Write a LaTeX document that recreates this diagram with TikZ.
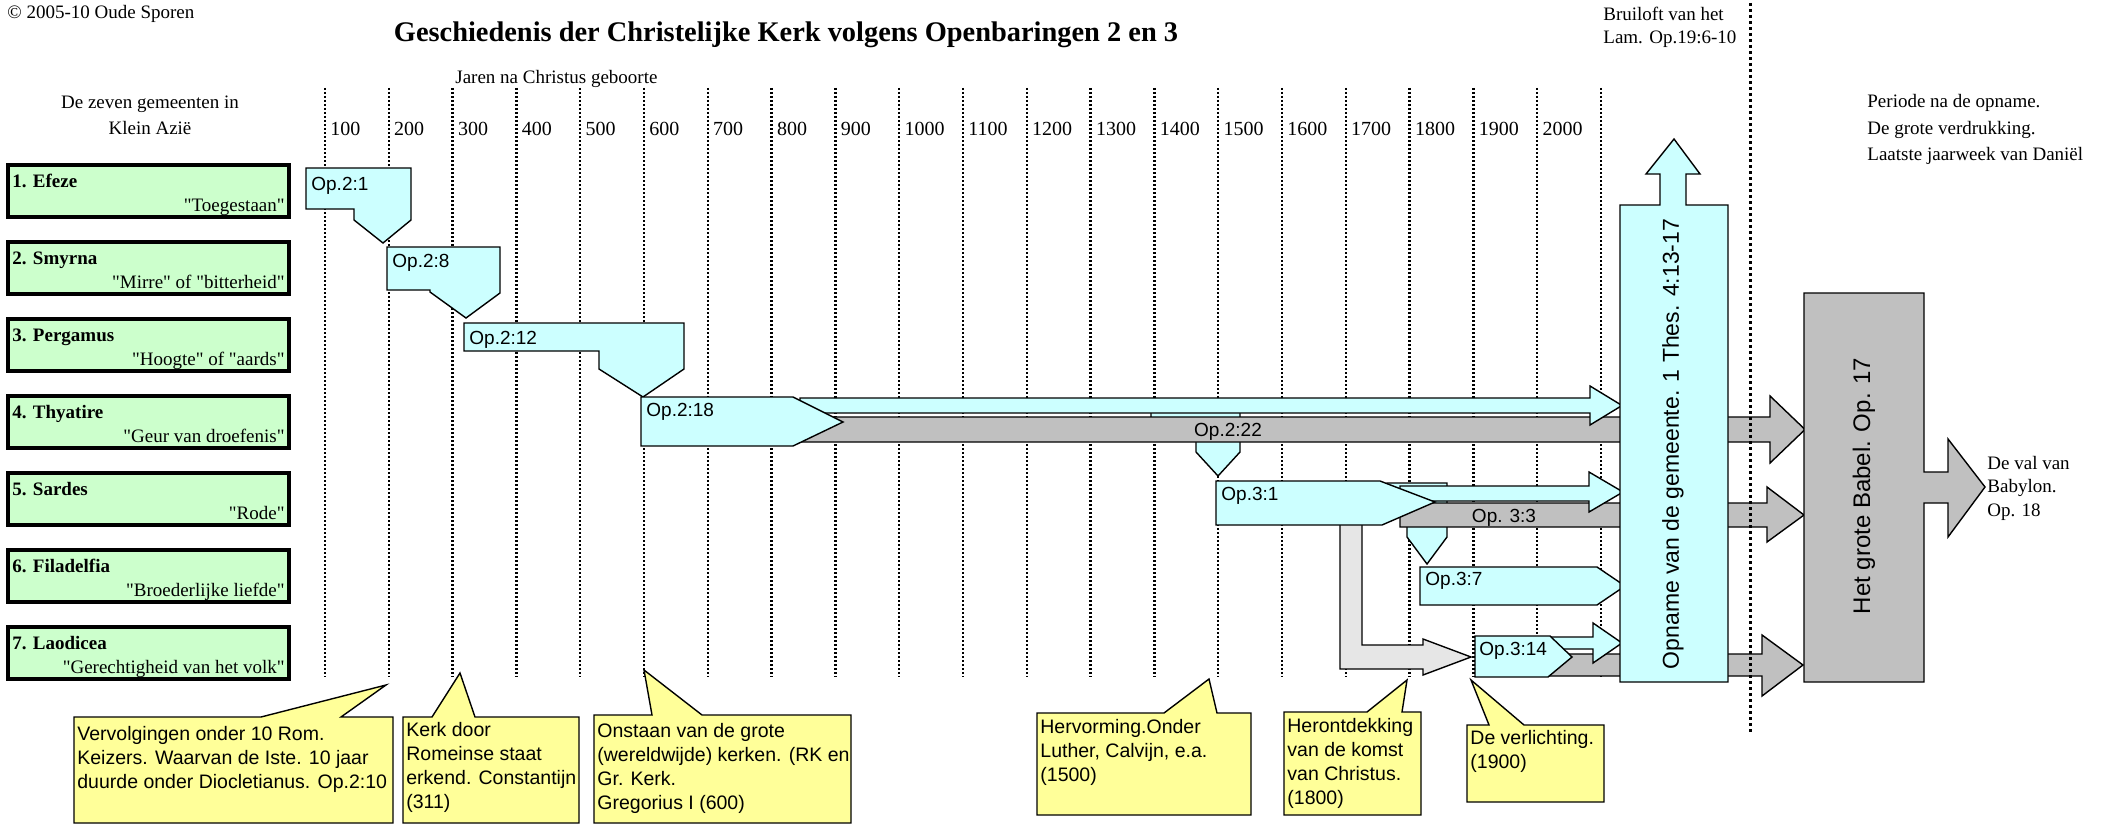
\documentclass[tikz,border=0pt]{standalone}
\usepackage{fontspec}
\setmainfont{Liberation Serif}[Ligatures=TeXOff]
\setsansfont{Liberation Sans}[Ligatures=TeXOff]
\definecolor{cyf}{HTML}{CCFFFF}
\definecolor{grf}{HTML}{C0C0C0}
\definecolor{lgf}{HTML}{E6E6E6}
\definecolor{grnf}{HTML}{CCFFCC}
\definecolor{yelf}{HTML}{FFFF99}
\tikzset{
 dotl/.style={line width=1.2pt, dash pattern=on 1pt off 1pt},
 tdot/.style={line width=1.5pt, dash pattern=on 1.5pt off 1.5pt},
 cyshape/.style={draw=black, fill=cyf, line width=0.7pt},
 grshape/.style={draw=black, fill=grf, line width=0.7pt},
 lgshape/.style={draw=black, fill=lgf, line width=0.7pt},
 church/.style={draw=black, fill=grnf, line width=2pt},
 yshape/.style={draw=black, fill=yelf, line width=0.7pt},
 serif/.style={font=\fontsize{9.5pt}{12pt}\selectfont, inner sep=0pt},
 sans/.style={font=\sffamily\fontsize{9.5pt}{12pt}\selectfont, inner sep=0pt},
 ctext/.style={font=\sffamily\fontsize{9.75pt}{12pt}\selectfont, inner sep=0pt, align=left, anchor=north west},
 bigsans/.style={font=\sffamily\fontsize{11.5pt}{13pt}\selectfont, inner sep=0pt, rotate=90},
}
\begin{document}
\begin{tikzpicture}[x=0.5pt,y=-0.5pt]
\useasboundingbox[fill=white] (0,0) rectangle (2103,824);

% dotted year lines
\foreach \k in {1,...,21}
  \draw[dotl] ({325+63.8*(\k-1)},88) -- ({325+63.8*(\k-1)},677);
\foreach \k [evaluate=\k as \yr using int(\k*100)] in {1,...,20}
  \node[serif, anchor=base west, font=\fontsize{10pt}{12pt}\selectfont] (yr\k) at ({330+63.8*(\k-1)},135) {\yr};

% headings
\node[serif, anchor=base west] (copy) at (7,19) {© 2005-10 Oude Sporen};
\node[inner sep=0pt, anchor=base, font=\bfseries\fontsize{14.2pt}{16pt}\selectfont] (title) at (786,42) {Geschiedenis der Christelijke Kerk volgens Openbaringen 2 en 3};
\node[serif, anchor=base west] (jaren) at (455,84) {Jaren na Christus geboorte};
\node[serif, anchor=base] (zeven1) at (150,109) {De zeven gemeenten in};
\node[serif, anchor=base] (zeven2) at (150,134) {Klein Azië};
\node[serif, anchor=base west] (brui1) at (1603,21) {Bruiloft van het};
\node[serif, anchor=base west] (brui2) at (1603,44) {Lam. Op.19:6-10};
\node[serif, anchor=base west] (per1) at (1867,108) {Periode na de opname.};
\node[serif, anchor=base west] (per2) at (1867,134) {De grote verdrukking.};
\node[serif, anchor=base west] (per3) at (1867,160) {Laatste jaarweek van Daniël};

% church boxes
\foreach \i/\nm/\sb in {0/1. Efeze/"Toegestaan",
                        1/2. Smyrna/"Mirre" of "bitterheid",
                        2/3. Pergamus/"Hoogte" of "aards",
                        3/4. Thyatire/"Geur van droefenis",
                        4/5. Sardes/"Rode",
                        5/6. Filadelfia/"Broederlijke liefde",
                        6/7. Laodicea/"Gerechtigheid van het volk"}{
  \draw[church] (8,{165+77*\i}) rectangle (289,{217+77*\i});
  \node[serif, anchor=base west, font=\bfseries\fontsize{9.5pt}{12pt}\selectfont] (cn\i) at (12,{187+77*\i}) {\nm};
  \node[serif, anchor=base east] (cs\i) at (285,{211+77*\i}) {\sb};
}

% callout arrows behind bars
\draw[cyshape] (1151,410) -- (1240,410) -- (1240,452) -- (1218,476) -- (1196,452) -- (1196,440) -- (1151,440) -- cycle;
\draw[cyshape] (1387,483) -- (1447,483) -- (1447,537) -- (1427,564) -- (1407,537) -- (1407,515) -- (1387,515) -- cycle;
% Laodicea L arrow
\draw[lgshape] (1340,515) -- (1362,515) -- (1362,645) -- (1423,645) -- (1423,639) -- (1471,657) -- (1423,675) -- (1423,669) -- (1340,669) -- cycle;

% Thyatire bars
\draw[grshape] (800,417) -- (1770,417) -- (1770,396) -- (1805,429.5) -- (1770,463) -- (1770,442) -- (800,442) -- cycle;
\draw[cyshape] (800,398) -- (1590,398) -- (1590,386) -- (1622,405.5) -- (1590,425) -- (1590,413) -- (800,413) -- cycle;
\node[sans, anchor=base] (op222) at (1228,436) {Op.2:22};
% Sardes bars
\draw[grshape] (1400,503) -- (1767,503) -- (1767,487) -- (1804,515) -- (1767,542) -- (1767,527) -- (1400,527) -- cycle;
\draw[cyshape] (1400,486) -- (1589,486) -- (1589,472) -- (1623,492) -- (1589,512) -- (1589,501) -- (1400,501) -- cycle;
\node[sans, anchor=base] (op33) at (1504,522) {Op. 3:3};
% Laodicea bars
\draw[grshape] (1548,654) -- (1762,654) -- (1762,635) -- (1803,665) -- (1762,696) -- (1762,676) -- (1548,676) -- cycle;
\draw[cyshape] (1547,637) -- (1593,637) -- (1593,623) -- (1622,643) -- (1593,663) -- (1593,649) -- (1547,649) -- cycle;

% church period shapes
\draw[cyshape] (306,168) -- (411,168) -- (411,220) -- (383,243) -- (354,220) -- (354,209) -- (306,209) -- cycle;
\node[sans, anchor=base west] (op21) at (311,190) {Op.2:1};
\draw[cyshape] (387,247) -- (500,247) -- (500,293) -- (466,318) -- (430,292) -- (430,290) -- (387,290) -- cycle;
\node[sans, anchor=base west] (op28) at (392,267) {Op.2:8};
\draw[cyshape] (464,323) -- (684,323) -- (684,369) -- (643,397) -- (599,369) -- (599,351) -- (464,351) -- cycle;
\node[sans, anchor=base west] (op212) at (469,344) {Op.2:12};
\draw[cyshape] (641,397) -- (793,397) -- (843,422) -- (793,446) -- (641,446) -- cycle;
\node[sans, anchor=base west] (op218) at (646,416) {Op.2:18};
\draw[cyshape] (1216,481) -- (1380,481) -- (1435,502) -- (1382,525) -- (1216,525) -- cycle;
\node[sans, anchor=base west] (op31) at (1221,500) {Op.3:1};
\draw[cyshape] (1420,567) -- (1597,567) -- (1625,586) -- (1597,605) -- (1420,605) -- cycle;
\node[sans, anchor=base west] (op37) at (1425,585) {Op.3:7};
\draw[cyshape] (1475,636) -- (1550,636) -- (1572,657) -- (1548,677) -- (1475,677) -- cycle;
\node[sans, anchor=base west] (op314) at (1479,655) {Op.3:14};

% Opname
\draw[cyshape] (1620,682) -- (1620,205) -- (1660,205) -- (1660,174) -- (1646,174) -- (1674,139) -- (1700,174) -- (1686,174) -- (1686,205) -- (1728,205) -- (1728,682) -- cycle;
\node[bigsans] (opname) at (1673,444) {Opname van de gemeente. 1 Thes. 4:13-17};
% Babel
\draw[grshape] (1804,293) -- (1924,293) -- (1924,472) -- (1948,472) -- (1948,439) -- (1985,487) -- (1948,537) -- (1948,503) -- (1924,503) -- (1924,682) -- (1804,682) -- cycle;
\node[bigsans, font=\sffamily\fontsize{12pt}{14pt}\selectfont] (babel) at (1864,486) {Het grote Babel. Op. 17};
\node[serif, anchor=base west] (val1) at (1987,469) {De val van};
\node[serif, anchor=base west] (val2) at (1987,492) {Babylon.};
\node[serif, anchor=base west] (val3) at (1987,516) {Op. 18};

% tall dotted line
\draw[tdot] (1750,3) -- (1750,733);

% yellow callouts
\draw[yshape] (74,717) -- (261,717) -- (386,685) -- (341,717) -- (393,717) -- (393,823) -- (74,823) -- cycle;
\node[ctext] (c1) at (77,726) {Vervolgingen onder 10 Rom.\\Keizers. Waarvan de Iste. 10 jaar\\duurde onder Diocletianus. Op.2:10};
\draw[yshape] (403,717) -- (432,717) -- (460,673) -- (475,717) -- (579,717) -- (579,823) -- (403,823) -- cycle;
\node[ctext] (c2) at (406,722) {Kerk door\\Romeinse staat\\erkend. Constantijn\\(311)};
\draw[yshape] (594,715) -- (652,715) -- (644,670) -- (702,715) -- (851,715) -- (851,823) -- (594,823) -- cycle;
\node[ctext] (c3) at (597,723) {Onstaan van de grote\\(wereldwijde) kerken. (RK en\\Gr. Kerk.\\Gregorius I (600)};
\draw[yshape] (1037,713) -- (1164,713) -- (1209,679) -- (1217,713) -- (1251,713) -- (1251,815) -- (1037,815) -- cycle;
\node[ctext] (c4) at (1040,719) {Hervorming.Onder\\Luther, Calvijn, e.a.\\(1500)};
\draw[yshape] (1284,712) -- (1367,712) -- (1407,680) -- (1402,712) -- (1421,712) -- (1421,815) -- (1284,815) -- cycle;
\node[ctext] (c5) at (1287,718) {Herontdekking\\van de komst\\van Christus.\\(1800)};
\draw[yshape] (1467,725) -- (1489,725) -- (1471,680) -- (1524,725) -- (1604,725) -- (1604,802) -- (1467,802) -- cycle;
\node[ctext] (c6) at (1470,730) {De verlichting.\\(1900)};
\end{tikzpicture}
\end{document}
